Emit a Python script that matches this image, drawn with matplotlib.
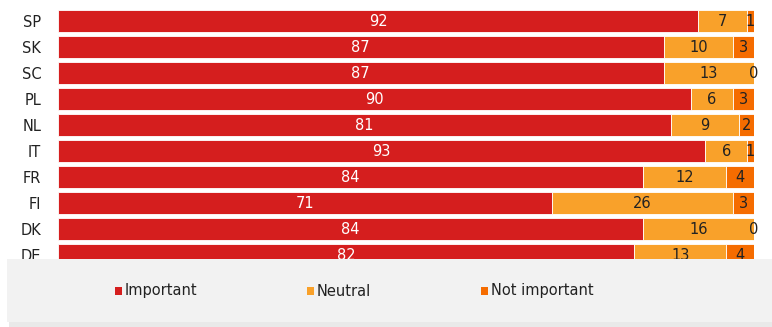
import matplotlib.pyplot as plt
from matplotlib.patches import Rectangle

countries = ['SP', 'SK', 'SC', 'PL', 'NL', 'IT', 'FR', 'FI', 'DK', 'DE']
important = [92, 87, 87, 90, 81, 93, 84, 71, 84, 82]
neutral = [7, 10, 13, 6, 9, 6, 12, 26, 16, 13]
not_important = [1, 3, 0, 3, 2, 1, 4, 3, 0, 4]

series = ['Important', 'Neutral', 'Not important']
colors = ['#d51e1e', '#f9a12a', '#f56c00']
text_colors = ['white', '#222222', '#222222']

W, H = 772, 327
fig = plt.figure(figsize=(W / 100, H / 100), dpi=100)

# axes placed in pixel terms: bars span x 58..754, rows 26px pitch starting at y=8
ax = fig.add_axes([58 / W, (H - 268) / H, 696 / W, 260 / H])
ax.set_xlim(0, 100)
ax.set_ylim(len(countries) - 0.5, -0.5)

# each row is stretched to 100% of the width (stacked percent), labels keep raw values
totals = [a + b + c for a, b, c in zip(important, neutral, not_important)]
left = [0] * len(countries)
for vals, col, tcol in zip([important, neutral, not_important], colors, text_colors):
    widths = [100 * v / t for v, t in zip(vals, totals)]
    ax.barh(range(len(countries)), widths, left=left, height=0.84, color=col,
            edgecolor='white', linewidth=0.6)
    for i, v in enumerate(vals):
        ax.text(left[i] + widths[i] / 2, i, str(v), ha='center', va='center',
                color=tcol, fontsize=10.5)
    left = [l + w for l, w in zip(left, widths)]

ax.set_yticks(range(len(countries)))
ax.set_yticklabels(countries, fontsize=10.5, color='#222222')
ax.tick_params(axis='y', length=0, pad=12)
ax.set_xticks([])
for s in ax.spines.values():
    s.set_visible(False)

# legend panel overlapping the bottom of the chart
fig.patches.append(Rectangle((9 / W, (H - 327) / H), (W - 9) / W, 68 / H,
                             transform=fig.transFigure, facecolor='#e9e9e9',
                             edgecolor='none', zorder=9))
fig.patches.append(Rectangle((7 / W, (H - 322) / H), (W - 7) / W, 63.5 / H,
                             transform=fig.transFigure, facecolor='#f2f2f2',
                             edgecolor='none', zorder=10))

ly = (H - 291) / H
for x0, name, col in zip([115, 307, 481], series, colors):
    fig.patches.append(Rectangle((x0 / W, ly - 4 / H), 7 / W, 8 / H,
                                 transform=fig.transFigure, facecolor=col,
                                 edgecolor='none', zorder=11))
    fig.text((x0 + 10) / W, ly, name, ha='left', va='center',
             fontsize=10.5, color='#222222', zorder=12)

fig.savefig('out.png', dpi=100)
